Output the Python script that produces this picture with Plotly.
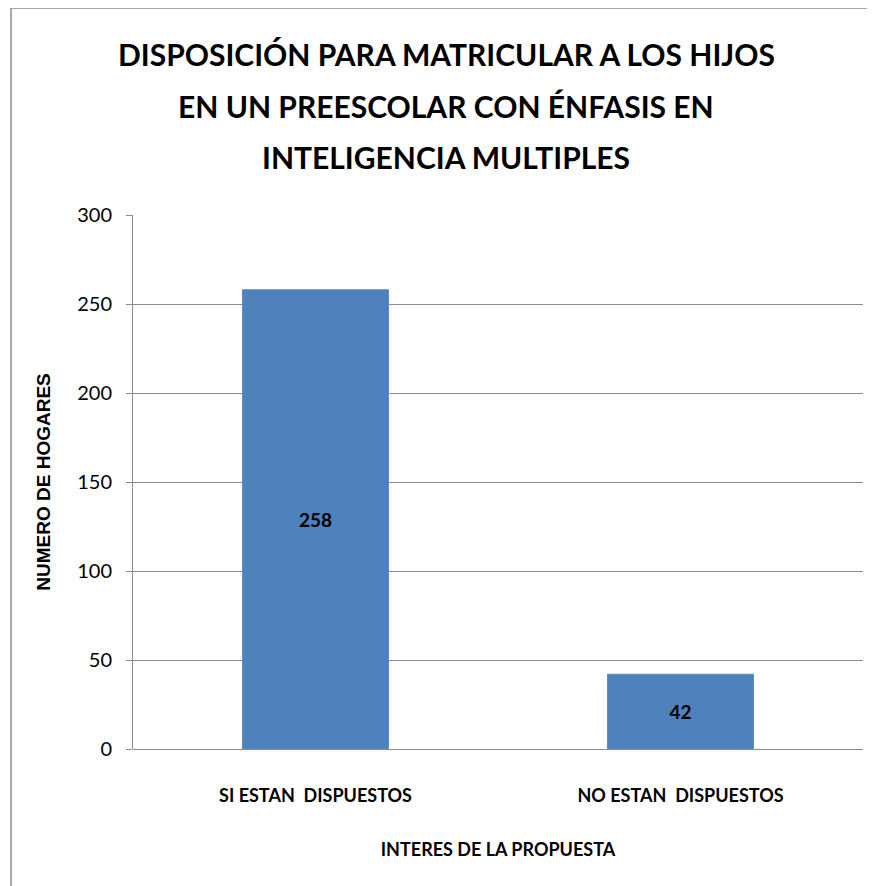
import plotly.graph_objects as go

categories = ["SI ESTAN  DISPUESTOS", "NO ESTAN  DISPUESTOS"]
values = [258, 42]
title_lines = ["DISPOSICIÓN PARA MATRICULAR A LOS HIJOS",
               "EN UN PREESCOLAR CON ÉNFASIS EN",
               "INTELIGENCIA MULTIPLES"]
y_ticks = [0, 50, 100, 150, 200, 250, 300]

OFF = 8  # default page body margin
W, H = 875 - OFF, 886 - OFF
L, R = 133 - OFF, W - (863 - OFF)
T = 215 - OFF
B = H - (749 - OFF)
pw, ph = W - L - R, H - T - B

def px_x(x):
    return (x - OFF - L) / pw

def px_y(y):
    return (H - B - (y - OFF)) / ph

fig = go.Figure()
fig.add_trace(go.Bar(
    x=categories, y=values, width=0.4,
    marker=dict(color="#4F81BD", line=dict(color="#5B8CC6", width=1)),
    text=[str(v) for v in values], textposition="inside",
    insidetextanchor="middle", textangle=0,
    textfont=dict(family="Lato", size=19, color="#000000", weight="bold"),
    cliponaxis=False,
))

annotations = []
for line, yy in zip(title_lines, [54, 106, 157]):
    annotations.append(dict(
        text=f"<b>{line}</b>", x=px_x(446), y=px_y(yy), xref="paper", yref="paper",
        showarrow=False, xanchor="center", yanchor="middle",
        font=dict(family="Lato", size=30, color="#000000"),
    ))

fig.update_layout(
    width=W, height=H,
    margin=dict(l=L, r=R, t=T, b=B, pad=0),
    paper_bgcolor="white", plot_bgcolor="white",
    showlegend=False,
    annotations=annotations,
    xaxis=dict(
        showgrid=False, showline=False,
        ticks="outside", ticklen=30, tickcolor="rgba(0,0,0,0)",
        tickfont=dict(family="Lato", size=18, color="#000000", weight="bold"),
        title=dict(text="<b>INTERES DE LA PROPUESTA</b>", standoff=38,
                   font=dict(family="Lato", size=18, color="#000000")),
    ),
    yaxis=dict(
        range=[0, 300], tickvals=y_ticks,
        showgrid=True, gridcolor="#8C8C8C", gridwidth=1,
        showline=True, linecolor="#8C8C8C", linewidth=1,
        ticks="outside", ticklen=6, tickcolor="#8C8C8C",
        ticklabelstandoff=10,
        zeroline=True, zerolinecolor="#8C8C8C", zerolinewidth=1,
        tickfont=dict(family="Lato", size=20, color="#000000"),
        title=dict(text="<b>NUMERO DE HOGARES</b>", standoff=21,
                   font=dict(family="Liberation Sans", size=19, color="#000000")),
    ),
    shapes=[dict(type="rect", xref="paper", yref="paper",
                 x0=px_x(11), x1=px_x(900), y0=px_y(920), y1=px_y(8),
                 line=dict(color="#8C8C8C", width=1.5), fillcolor="rgba(0,0,0,0)",
                 layer="below")],
)

fig.write_html("out.html")
